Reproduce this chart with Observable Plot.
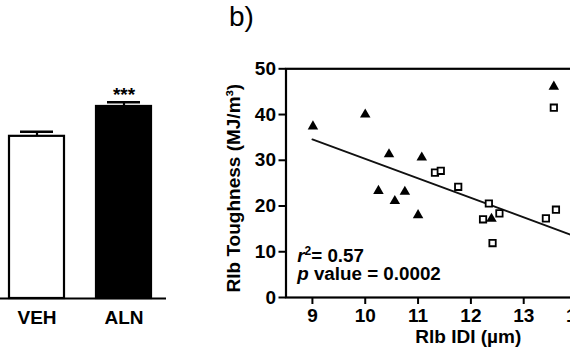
<!DOCTYPE html>
<html><head><meta charset="utf-8">
<script src="https://cdn.jsdelivr.net/npm/d3@7"></script>
<script src="https://cdn.jsdelivr.net/npm/@observablehq/plot@0.6"></script>
<style>
html,body{margin:0;padding:0;background:#fff;}
#wrap{position:relative;width:570px;height:350px;overflow:hidden;font-family:"Liberation Sans",Arial,sans-serif;background:#fff;}
#left{position:absolute;left:0;top:0;width:200px;height:350px;}
#right{position:absolute;left:200px;top:0;width:455px;height:350px;}
#wrap svg{max-width:none !important;height:350px;display:block;}
#tag{position:absolute;left:229px;top:1px;font-size:28px;line-height:1.149;color:#000;}
</style></head><body>
<div id="wrap"><div id="left"></div><div id="right"></div><div id="tag">b)</div></div>
<script>
// ---- panel a (partial bar chart) ----
const groups = ["VEH", "ALN"];
const groupMeans = [35.3, 41.8];
const groupErrors = [1.0, 0.9];
const groupFills = ["white", "black"];
const significance = ["", "***"];

// ---- panel b (scatter) ----
const triangleX = [9.01, 10.0, 10.45, 11.07, 10.25, 10.75, 10.56, 11.0, 12.39, 13.57];
const triangleY = [37.4, 40.0, 31.3, 30.6, 23.3, 23.1, 21.1, 18.0, 17.2, 46.1];
const squareX = [11.32, 11.43, 11.76, 12.34, 12.54, 12.23, 12.41, 13.42, 13.61, 13.57];
const squareY = [27.3, 27.7, 24.2, 20.55, 18.4, 17.1, 11.9, 17.3, 19.2, 41.5];
const fitSlope = -4.26;
const fitIntercept = 72.9;
const fitXRange = [9.0, 14.0];
const xTicks = [9, 10, 11, 12, 13, 14, 15];
const yTicks = [0, 10, 20, 30, 40, 50];
const statLines = ["r2= 0.57", "p value = 0.0002"];
const xLabel = "Rlb IDI (µm)";
const yLabel = "Rlb Toughness (MJ/m³)";

const font = "Liberation Sans, Arial, sans-serif";

const barData = groups.map((g, i) => ({group: g, mean: groupMeans[i], err: groupErrors[i], fill: groupFills[i], sig: significance[i]}));

const left = Plot.plot({
  width: 200, height: 350,
  marginLeft: 0, marginRight: 34, marginTop: 68.3, marginBottom: 52,
  style: {fontFamily: font, fontSize: "19px", fontWeight: "bold", background: "white", color: "black", overflow: "visible"},
  color: {type: "identity"},
  x: {domain: groups, paddingInner: 0.37, paddingOuter: 0.139, align: 0.37, axis: null},
  y: {domain: [0, 50], axis: null},
  marks: [
    Plot.ruleX(barData, {x: "group", y1: "mean", y2: d => d.mean + d.err, stroke: "black", strokeWidth: 2.2}),
    Plot.tickY(barData, {x: "group", y: d => d.mean + d.err, stroke: "black", strokeWidth: 2.5, insetLeft: 11, insetRight: 11}),
    Plot.barY(barData, {x: "group", y: "mean", fill: "fill", stroke: "black", strokeWidth: 2.2}),
    Plot.text(barData, {x: "group", y: d => d.mean + d.err, text: "sig", dy: -7.5, fontSize: 19, fill: "black"}),
    Plot.ruleY([0], {stroke: "black", strokeWidth: 2.2}),
    Plot.axisX({tickSize: 0, tickPadding: 12, label: null, fontSize: 19})
  ]
});
document.getElementById("left").appendChild(left);

const tri = triangleX.map((x, i) => ({x, y: triangleY[i]}));
const sq = squareX.map((x, i) => ({x, y: squareY[i]}));
const fit = fitXRange.map(x => ({x, y: fitIntercept + fitSlope * x}));

const right = Plot.plot({
  width: 455, height: 350,
  marginLeft: 85.5, marginRight: 5, marginTop: 68.3, marginBottom: 53,
  style: {fontFamily: font, fontSize: "18px", fontWeight: "bold", background: "white", color: "black", overflow: "visible"},
  x: {domain: [8.5, 15.4], axis: null},
  y: {domain: [0, 50], axis: null},
  marks: [
    Plot.frame({stroke: "black", strokeWidth: 2.2}),
    Plot.axisX({ticks: xTicks, tickFormat: d => String(d), tickSize: 7, tickPadding: 4, strokeWidth: 2, label: null, fontSize: 19}),
    Plot.axisY({ticks: yTicks, tickFormat: d => String(d), tickSize: 7, tickPadding: 3, strokeWidth: 2, label: null, fontSize: 19}),
    Plot.line(fit, {x: "x", y: "y", stroke: "#111", strokeWidth: 1.8}),
    Plot.dot(sq, {x: "x", y: "y", symbol: "square", r: 3.6, stroke: "black", fill: "white", strokeWidth: 1.8}),
    Plot.dot(tri, {x: "x", y: "y", symbol: "triangle", r: 3.9, fill: "black", stroke: "none"}),
    Plot.text([statLines[0]], {frameAnchor: "bottom-left", textAnchor: "start", dx: 11.2, dy: -35.8, fontSize: 18.8, fill: "black"}),
    Plot.text([statLines[1]], {frameAnchor: "bottom-left", textAnchor: "start", dx: 11.2, dy: -17.8, fontSize: 18.8, fill: "black"}),
    Plot.text([xLabel], {frameAnchor: "bottom", textAnchor: "middle", dy: 45, fontSize: 19, fill: "black"}),
    Plot.text([yLabel], {frameAnchor: "left", textAnchor: "middle", rotate: -90, dx: -52.5, dy: 5, fontSize: 19, fill: "black"})
  ]
});
document.getElementById("right").appendChild(right);

// rich text: italic r / p and superscript 2
d3.select(right).selectAll("text").each(function() {
  const t = this.textContent;
  const s = d3.select(this);
  if (t === statLines[0]) {
    s.text("");
    s.append("tspan").attr("font-style", "italic").text("r");
    s.append("tspan").attr("font-size", "12px").attr("dy", "-7").text("2");
    s.append("tspan").attr("dy", "7").text("= 0.57");
  } else if (t === statLines[1]) {
    s.text("");
    s.append("tspan").attr("font-style", "italic").text("p");
    s.append("tspan").text(" value = 0.0002");
  }
});
</script>
</body></html>
